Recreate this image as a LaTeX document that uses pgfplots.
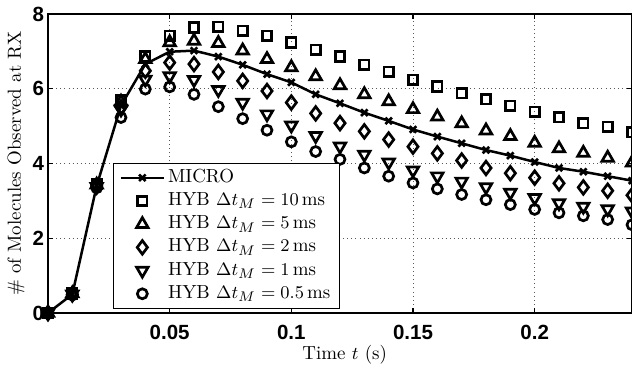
\documentclass[border=0pt]{standalone}
\usepackage{fontspec}
\setsansfont{Liberation Sans}
\usepackage{pgfplots}
\pgfplotsset{compat=1.18}
\pgfplotstableread{
t micro h10 h5 h2 h1 h05
0.00 0 0 0 0 0 0
0.01 0.50 0.52 0.52 0.50 0.50 0.48
0.02 3.40 3.45 3.43 3.40 3.38 3.35
0.03 5.55 5.70 5.65 5.50 5.45 5.23
0.04 6.66 6.87 6.79 6.48 6.25 5.99
0.05 6.99 7.42 7.24 6.70 6.34 6.05
0.06 7.02 7.64 7.28 6.66 6.24 5.85
0.07 6.86 7.66 7.22 6.45 5.97 5.52
0.08 6.64 7.55 7.02 6.21 5.63 5.20
0.09 6.39 7.42 6.79 5.94 5.32 4.89
0.10 6.17 7.24 6.57 5.63 5.02 4.58
0.11 5.85 7.04 6.33 5.34 4.74 4.32
0.12 5.61 6.86 6.09 5.08 4.46 4.11
0.13 5.36 6.64 5.85 4.86 4.24 3.88
0.14 5.14 6.45 5.66 4.64 4.03 3.66
0.15 4.91 6.24 5.45 4.45 3.82 3.48
0.16 4.72 6.06 5.25 4.27 3.66 3.32
0.17 4.54 5.88 5.07 4.08 3.52 3.17
0.18 4.36 5.72 4.88 3.88 3.37 3.03
0.19 4.21 5.54 4.73 3.74 3.22 2.90
0.20 4.04 5.38 4.55 3.62 3.08 2.77
0.21 3.88 5.24 4.40 3.47 2.94 2.68
0.22 3.78 5.08 4.28 3.36 2.85 2.60
0.23 3.66 4.98 4.15 3.27 2.78 2.50
0.24 3.54 4.84 4.02 3.15 2.72 2.36
}\data
\begin{document}
\begin{tikzpicture}
\begin{axis}[
  scale only axis, width=292bp, height=149.5bp,
  xmin=0, xmax=0.24, ymin=0, ymax=8,
  xtick={0.05,0.1,0.15,0.2}, xticklabels={0.05,0.1,0.15,0.2},
  ytick={0,2,4,6,8}, yticklabels={0,2,4,6,8},
  tick align=inside, major tick length=2.5bp,
  axis line style={line width=0.6bp},
  every tick/.style={black, line width=0.6bp},
  grid=major,
  major grid style={black!65, line width=0.45bp, dash pattern=on 0.45bp off 1.6bp},
  tick label style={font=\sffamily\bfseries\fontsize{10.3}{11}\selectfont},
  xticklabel style={yshift=-2.6bp},
  yticklabel style={xshift=1.5bp},
  label style={font=\fontsize{9.5}{11}\selectfont},
  xlabel={Time $t$ (s)},
  ylabel={\# of Molecules Observed at RX},
  xlabel style={at={(axis description cs:0.508,-0.1405)}, anchor=center},
  ylabel style={at={(axis description cs:-0.0548,0.5)}, anchor=center},
  legend cell align=left,
  legend image code/.code={\draw[mark repeat=2,mark phase=2] plot coordinates {(0bp,0bp) (10.75bp,0bp) (21.5bp,0bp)};},
  legend style={at={(axis description cs:0.1113,0.0134)}, anchor=south west,
    draw=black, line width=0.6bp, font=\fontsize{9.5}{11}\selectfont,
    inner xsep=3bp, inner ysep=1.5bp,
    nodes={inner ysep=0.5bp, inner xsep=1.5bp, text height=7.6bp, text depth=3bp}},
]
\addplot[black, line width=1.25bp, mark=x, mark size=2.3bp, mark options={line width=1.3bp}] table[x=t,y=micro]{\data};
\addlegendentry{MICRO}
\addplot[black, only marks, mark=square, mark size=2.4bp, mark options={line width=1.35bp}] table[x=t,y=h10]{\data};
\addlegendentry{HYB $\Delta t_M = 10\,$ms}
\addplot[black, only marks, mark=triangle, mark size=3.3bp, mark options={line width=1.35bp}] table[x=t,y=h5]{\data};
\addlegendentry{HYB $\Delta t_M = 5\,$ms}
\addplot[black, only marks, mark=diamond, mark size=3.4bp, mark options={line width=1.35bp}] table[x=t,y=h2]{\data};
\addlegendentry{HYB $\Delta t_M = 2\,$ms}
\addplot[black, only marks, mark=triangle, mark size=3.3bp, mark options={line width=1.35bp, rotate=180}] table[x=t,y=h1]{\data};
\addlegendentry{HYB $\Delta t_M = 1\,$ms}
\addplot[black, only marks, mark=o, mark size=2.5bp, mark options={line width=1.35bp}] table[x=t,y=h05]{\data};
\addlegendentry{HYB $\Delta t_M = 0.5\,$ms}
\end{axis}
\pgfresetboundingbox
\path[use as bounding box] ([xshift=-24bp,yshift=-27bp]current axis.south west) rectangle ([yshift=7bp]current axis.north east);
\end{tikzpicture}
\end{document}
